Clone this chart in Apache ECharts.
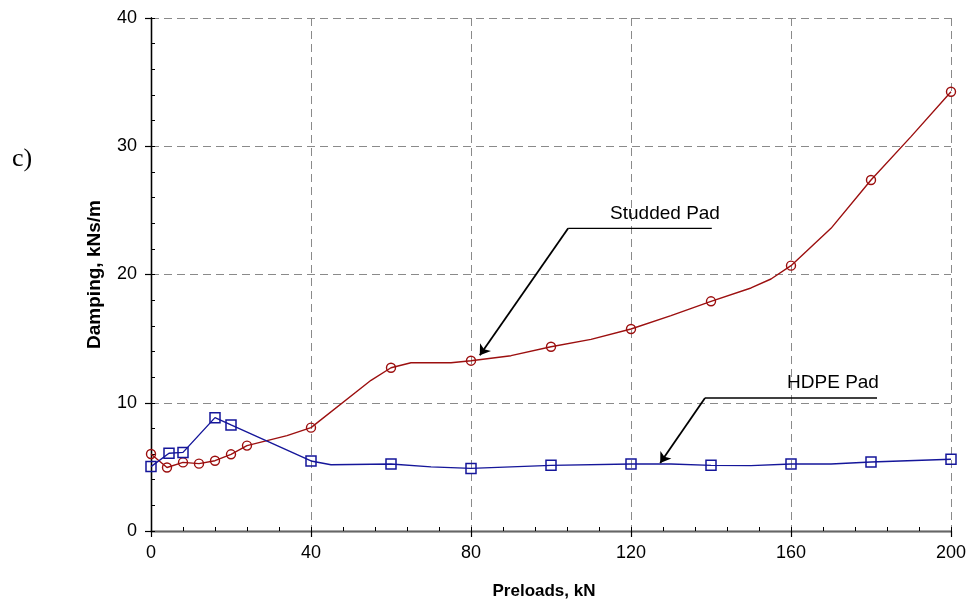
<!DOCTYPE html>
<html>
<head>
<meta charset="utf-8">
<script src="https://cdn.jsdelivr.net/npm/echarts@6/dist/echarts.min.js"></script>
<style>html,body{margin:0;padding:0;background:#fff}#c{width:970px;height:604px}</style>
</head>
<body>
<div id="c"></div>
<script>
// ---- data ----
const studMarkX = [0, 4, 8, 12, 16, 20, 24, 40, 60, 80, 100, 120, 140, 160, 180, 200];
const studMarkY = [6.0, 4.95, 5.35, 5.25, 5.48, 5.98, 6.66, 8.06, 12.73, 13.28, 14.37, 15.75, 17.91, 20.69, 27.37, 34.25];
const studLineX = [0, 4, 8, 12, 16, 20, 24, 28, 34, 40, 55, 60, 65, 75, 80, 90, 100, 110, 120, 130, 140, 150, 155, 160, 170, 180, 190, 200];
const studLineY = [6.0, 4.95, 5.35, 5.25, 5.48, 5.98, 6.66, 6.97, 7.44, 8.06, 11.75, 12.73, 13.12, 13.12, 13.28, 13.67, 14.37, 14.94, 15.75, 16.8, 17.91, 18.95, 19.65, 20.69, 23.6, 27.37, 30.75, 34.25];
const hdpeMarkX = [0, 4.5, 8, 16, 20, 40, 60, 80, 100, 120, 140, 160, 180, 200];
const hdpeMarkY = [5.02, 6.06, 6.13, 8.84, 8.27, 5.46, 5.22, 4.88, 5.12, 5.22, 5.12, 5.22, 5.38, 5.59];
const hdpeLineX = [0, 4.5, 8, 16, 20, 40, 45, 60, 70, 80, 100, 120, 130, 140, 150, 160, 170, 180, 200];
const hdpeLineY = [5.02, 6.06, 6.13, 8.84, 8.27, 5.46, 5.17, 5.22, 5.0, 4.88, 5.12, 5.22, 5.22, 5.12, 5.1, 5.22, 5.22, 5.38, 5.59];
const xTicks = [0, 40, 80, 120, 160, 200];
const yTicks = [0, 10, 20, 30, 40];
const seriesNames = ['Studded Pad', 'HDPE Pad'];
// annotation anchors (data coordinates)
const studArrow = [[104.3, 23.6], [82.2, 13.7]];
const studLeader = [[104.3, 23.6], [140.2, 23.6]];
const studText = [128.5, 24.7];
const hdpeArrow = [[138.5, 10.37], [127.3, 5.3]];
const hdpeLeader = [[138.5, 10.37], [181.5, 10.37]];
const hdpeText = [170.5, 11.55];

const zip = (xs, ys) => xs.map((x, i) => [x, ys[i]]);
const RED = '#9c0f0f', BLUE = '#15169a';
const FONT = '"Liberation Sans", Arial, sans-serif';

const chart = echarts.init(document.getElementById('c'), null, {renderer: 'canvas'});
const gridLine = {show: true, lineStyle: {color: '#8a8a8a', type: [8, 5], width: 1}};
chart.setOption({
  animation: false,
  backgroundColor: '#fff',
  grid: {left: 151, right: 19, top: 18, bottom: 73, containLabel: false, outerBoundsMode: 'none'},
  graphic: [{type: 'text', left: 12, top: 146, style: {text: 'c)', font: '26px "Liberation Serif", serif', fill: '#000'}}],
  xAxis: [
    {type: 'value', min: 0, max: 200, interval: 40, position: 'bottom',
     name: 'Preloads, kN', nameLocation: 'middle', nameGap: 52,
     nameTextStyle: {fontFamily: FONT, fontWeight: 'bold', fontSize: 17, color: '#000', padding: [0, 14, 0, 0]},
     axisLine: {show: true, onZero: false, lineStyle: {color: '#000', width: 1.3}},
     axisTick: {show: true, inside: false, length: 6, lineStyle: {color: '#000', width: 1.2}},
     axisLabel: {fontFamily: FONT, fontSize: 18, color: '#000', margin: 13},
     splitLine: gridLine},
    {type: 'value', min: 0, max: 200, interval: 8, position: 'bottom',
     axisLine: {show: false}, axisLabel: {show: false}, splitLine: {show: false},
     axisTick: {show: true, inside: true, length: 4, lineStyle: {color: '#000', width: 1}}},
    {type: 'value', min: 0, max: 200, position: 'top',
     axisLine: {show: true, lineStyle: {color: '#666', width: 1.3}},
     axisTick: {show: false}, axisLabel: {show: false}, splitLine: {show: false}}
  ],
  yAxis: [
    {type: 'value', min: 0, max: 40, interval: 10, position: 'left',
     name: 'Damping, kNs/m', nameLocation: 'middle', nameGap: 47, nameRotate: 90,
     nameTextStyle: {fontFamily: FONT, fontWeight: 'bold', fontSize: 19, color: '#000'},
     axisLine: {show: true, onZero: false, lineStyle: {color: '#000', width: 1.3}},
     axisTick: {show: true, inside: false, length: 6, lineStyle: {color: '#000', width: 1.2}},
     axisLabel: {fontFamily: FONT, fontSize: 18, color: '#000', margin: 14},
     splitLine: gridLine},
    {type: 'value', min: 0, max: 40, interval: 2, position: 'left',
     axisLine: {show: false}, axisLabel: {show: false}, splitLine: {show: false},
     axisTick: {show: true, inside: true, length: 4, lineStyle: {color: '#000', width: 1}}},
    {type: 'value', min: 0, max: 40, position: 'right',
     axisLine: {show: true, lineStyle: {color: '#000', width: 1.3}},
     axisTick: {show: false}, axisLabel: {show: false}, splitLine: {show: false}}
  ],
  series: [
    {name: seriesNames[0] + ' line', type: 'line', data: zip(studLineX, studLineY), showSymbol: false, symbol: 'none',
     lineStyle: {color: RED, width: 1.4}, z: 3},
    {name: seriesNames[0], type: 'scatter', data: zip(studMarkX, studMarkY), symbol: 'circle', symbolSize: 9,
     itemStyle: {color: 'rgba(255,255,255,0)', borderColor: RED, borderWidth: 1.4, opacity: 1}, z: 4},
    {name: seriesNames[1] + ' line', type: 'line', data: zip(hdpeLineX, hdpeLineY), showSymbol: false, symbol: 'none',
     lineStyle: {color: BLUE, width: 1.4}, z: 3},
    {name: seriesNames[1], type: 'scatter', data: zip(hdpeMarkX, hdpeMarkY), symbol: 'rect', symbolSize: 10,
     itemStyle: {color: 'rgba(255,255,255,0)', borderColor: BLUE, borderWidth: 1.5, opacity: 1}, z: 4},
    {type: 'lines', coordinateSystem: 'cartesian2d', symbol: ['none', 'arrow'], symbolSize: [1, 10],
     lineStyle: {color: '#000', width: 1.8, opacity: 1}, z: 5,
     data: [{coords: studArrow}, {coords: hdpeArrow}]},
    {type: 'line', data: studLeader, symbol: 'none', lineStyle: {color: '#000', width: 1.3}, z: 5},
    {type: 'line', data: hdpeLeader, symbol: 'none', lineStyle: {color: '#000', width: 1.3}, z: 5},
    {type: 'scatter', symbolSize: 0, z: 6, itemStyle: {opacity: 1},
     data: [{value: studText, name: seriesNames[0]}, {value: hdpeText, name: seriesNames[1]}],
     label: {show: true, position: 'inside', formatter: p => p.name, fontFamily: FONT, fontSize: 19, color: '#000'}}
  ]
});
</script>
</body>
</html>
